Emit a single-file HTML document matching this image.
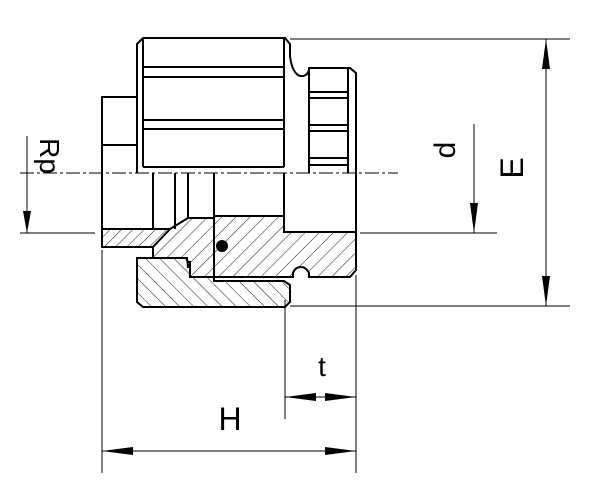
<!DOCTYPE html>
<html><head><meta charset="utf-8"><style>html,body{margin:0;padding:0;background:#fff}svg{display:block}</style></head>
<body>
<svg width="600" height="489" viewBox="0 0 600 489" xmlns="http://www.w3.org/2000/svg">
<defs>
<pattern id="h1" patternUnits="userSpaceOnUse" width="10" height="10" patternTransform="rotate(45)"><line x1="0" y1="0" x2="0" y2="10" stroke="#000" stroke-width="0.9"/></pattern>
<pattern id="h2" patternUnits="userSpaceOnUse" width="10" height="10" patternTransform="rotate(-45)"><line x1="0" y1="0" x2="0" y2="10" stroke="#000" stroke-width="0.9"/></pattern>
<pattern id="h3" patternUnits="userSpaceOnUse" width="8" height="8" patternTransform="rotate(45)"><line x1="0" y1="0" x2="0" y2="8" stroke="#000" stroke-width="0.9"/></pattern>
</defs>
<g fill="none" stroke="#000" stroke-width="2">
<path d="M137,167 L137,44 L143,38 L285,38 L290,44 L290,56 Q292,73 300,76 Q307,77 309,70 L309,68 L350,68 L356,73 L356,232"/>
<line x1="143" y1="38" x2="143" y2="167"/>
<line x1="284" y1="38" x2="284" y2="167"/>
<line x1="143" y1="67" x2="284" y2="67"/>
<line x1="143" y1="77" x2="284" y2="77"/>
<line x1="143" y1="120" x2="284" y2="120"/>
<line x1="143" y1="129" x2="284" y2="129"/>
<line x1="143" y1="167" x2="284" y2="167"/>
<line x1="309" y1="68" x2="309" y2="173"/>
<line x1="348" y1="68" x2="348" y2="173"/>
<line x1="309" y1="92" x2="348" y2="92"/>
<line x1="309" y1="98" x2="348" y2="98"/>
<line x1="309" y1="125" x2="348" y2="125"/>
<line x1="309" y1="131" x2="348" y2="131"/>
<line x1="309" y1="158" x2="348" y2="158"/>
<line x1="309" y1="165" x2="348" y2="165"/>
<path d="M137,97 L102,97 L102,247 L153,247"/>
<line x1="102" y1="145" x2="137" y2="145"/>
<line x1="137" y1="167" x2="137" y2="173"/>
<line x1="153" y1="173" x2="153" y2="229"/>
<line x1="175" y1="173" x2="175" y2="229"/>
<line x1="188" y1="173" x2="188" y2="218"/>
<line x1="214" y1="173" x2="214" y2="216"/>
<line x1="284" y1="173" x2="284" y2="232"/>
</g>
<path d="M102,229 L170,229 L153,247 L102,247 Z" fill="url(#h3)" stroke="#000" stroke-width="1.5"/>
<path d="M102,229 L170,229" stroke="#000" stroke-width="2"/>
<path d="M188,218 L214,218 L214,277 L190,277 L190,267 L188,267 L187,258 L153,258 L153,247 L170,229 Z" fill="url(#h1)" stroke="#000" stroke-width="2"/>
<path d="M214,216 L284,216 L284,232 L356,232 L356,270 L350,277 L309,277 L309,273 Q306,267 301,267 Q295,267 293,273 L293,277 L214,277 Z" fill="url(#h1)" stroke="#000" stroke-width="2"/>
<path d="M137,258 L186,258 L188,262 L190,262 L190,277 L214,277 L214,281 L284,281 L290,285 L290,302 L285,307 L143,307 L137,302 Z" fill="url(#h2)" stroke="#000" stroke-width="2"/>
<circle cx="222" cy="246" r="6" fill="#000"/>
<line x1="20" y1="173" x2="398" y2="173" stroke="#000" stroke-width="1" stroke-dasharray="14,3,3,3"/>
<g stroke="#000" stroke-width="1">
<line x1="290" y1="39" x2="570" y2="39"/>
<line x1="290" y1="306" x2="570" y2="306"/>
<line x1="546" y1="39" x2="546" y2="306"/>
<line x1="20" y1="233" x2="95" y2="233"/>
<line x1="360" y1="233" x2="497" y2="233"/>
<line x1="474" y1="124" x2="474" y2="233"/>
<line x1="27" y1="136" x2="27" y2="233"/>
<line x1="102" y1="250" x2="102" y2="473"/>
<line x1="356" y1="275" x2="356" y2="473"/>
<line x1="285" y1="300" x2="285" y2="419"/>
<line x1="102" y1="451" x2="356" y2="451"/>
<line x1="285" y1="397" x2="356" y2="397"/>
</g>
<g fill="#000">
<polygon points="546,39 542,69 550,69"/>
<polygon points="546,306 542,276 550,276"/>
<polygon points="474,233 470,203 478,203"/>
<polygon points="27,233 23,211 31,211"/>
<polygon points="102,451 133,447 133,455"/>
<polygon points="356,451 325,447 325,455"/>
<polygon points="285,397 316,393 316,401"/>
<polygon points="356,397 325,393 325,401"/>
</g>
<g font-family="Liberation Sans, sans-serif" fill="#000">
<text x="0" y="0" font-size="32" text-anchor="middle" transform="translate(523,168) rotate(-90)">E</text>
<text x="0" y="0" font-size="30" text-anchor="middle" transform="translate(455,150) rotate(-90)">d</text>
<text x="0" y="0" font-size="28" text-anchor="middle" transform="translate(40,156) rotate(90)">Rp</text>
<text x="322" y="376" font-size="28" text-anchor="middle">t</text>
<text x="230" y="430" font-size="32" text-anchor="middle">H</text>
</g>
</svg>
</body></html>
